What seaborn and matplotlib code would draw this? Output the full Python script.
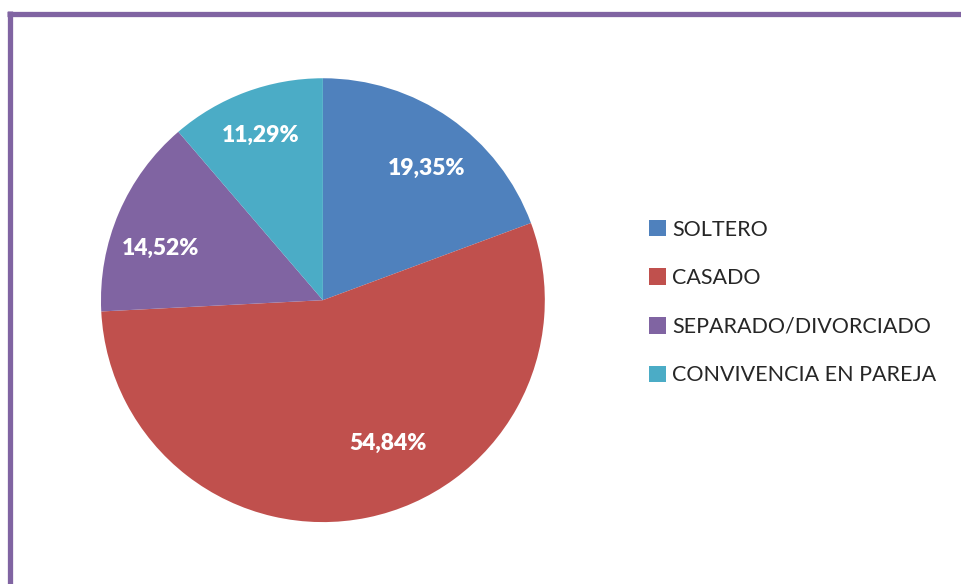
import matplotlib
matplotlib.use("Agg")
import matplotlib.pyplot as plt
from matplotlib.lines import Line2D
from matplotlib.patches import Patch
import seaborn as sns

# ── DATA ──────────────────────────────────────────────────────────────────────
categories = ["SOLTERO", "CASADO", "SEPARADO/DIVORCIADO", "CONVIVENCIA EN PAREJA"]
percentages = [19.35, 54.84, 14.52, 11.29]
colors = ["#4F81BD", "#C0504D", "#8064A2", "#4BACC6"]

# small nudges (pixels, x right / y down) so labels sit where Excel put them
label_nudge = [(7, 7), (31, -22), (-7, 15), (-4, -7)]

# ── PLOT ──────────────────────────────────────────────────────────────────────
sns.set_theme(style="white")
plt.rcParams["font.family"] = ["Lato", "DejaVu Sans"]
palette = sns.color_palette(colors)

fig = plt.figure(figsize=(9.61, 5.84), dpi=100)
ax = fig.add_axes([0.105, 0.106, 0.462, 0.760])

wedges, texts, autotexts = ax.pie(
    percentages, colors=palette, startangle=90, counterclock=False,
    autopct=lambda p: f"{p:.2f}%".replace(".", ","), pctdistance=0.76,
    wedgeprops={"linewidth": 0},
    textprops={"color": "white", "fontsize": 16.5, "fontweight": "heavy"})
radius_px = 222
for t, (dx, dy) in zip(autotexts, label_nudge):
    x, y = t.get_position()
    t.set_position((x + dx / radius_px, y - dy / radius_px))
ax.set_xlim(-1, 1)
ax.set_ylim(-1, 1)
ax.set_aspect("equal")
ax.axis("off")

handles = [Patch(facecolor=c, edgecolor="none") for c in palette]
fig.legend(handles, categories, loc="center left", bbox_to_anchor=(0.675, 0.482),
           frameon=False, fontsize=15.5, handlelength=0.8, handleheight=0.8,
           handletextpad=0.3, labelspacing=1.33, borderaxespad=0, borderpad=0)

# purple frame (left and top edges visible)
purple = "#8064A2"
fig.add_artist(Line2D([9.5 / 961, 9.5 / 961], [0, 1 - 11 / 584],
                      transform=fig.transFigure, color=purple, linewidth=3.8,
                      solid_capstyle="butt"))
fig.add_artist(Line2D([7 / 961, 1], [1 - 13.5 / 584, 1 - 13.5 / 584],
                      transform=fig.transFigure, color=purple, linewidth=3.8,
                      solid_capstyle="butt"))

fig.savefig("out.png", dpi=100, facecolor="white")
